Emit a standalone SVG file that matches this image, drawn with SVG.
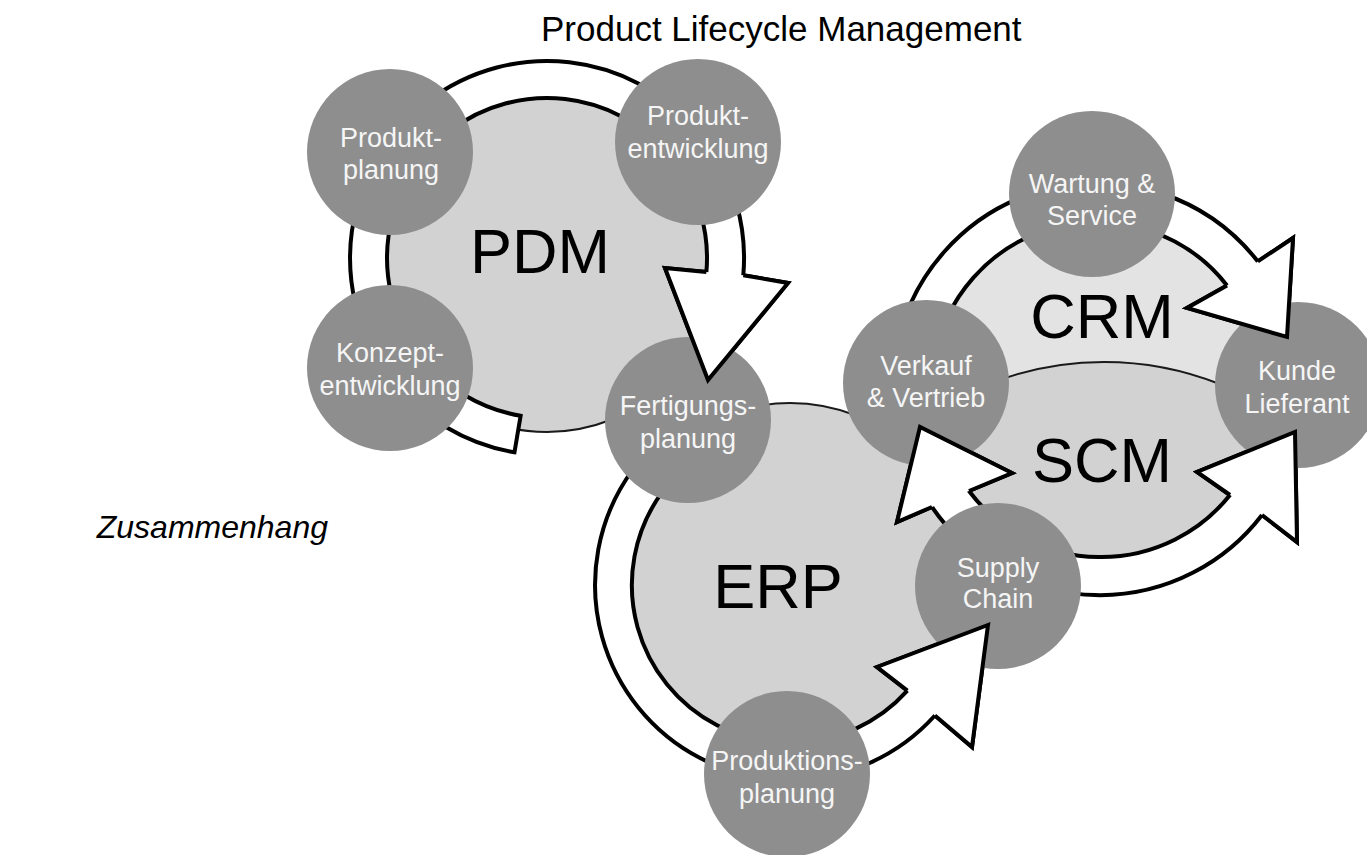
<svg xmlns="http://www.w3.org/2000/svg" width="1367" height="855" viewBox="0 0 1367 855">
  <style>
    .area { fill: #d2d2d2; stroke: #1a1a1a; stroke-width: 2; }
    .band { fill: #ffffff; stroke: #000000; stroke-width: 4; stroke-linejoin: miter; }
    .head { fill: #ffffff; stroke: #000000; stroke-width: 4; stroke-linejoin: miter; }
    .node circle { fill: #8e8e8e; }
    .node text { font-family: "Liberation Sans", Arial, sans-serif; font-size: 27px; fill: #f5f5f5; text-anchor: middle; }
    .big { font-family: "Liberation Sans", Arial, sans-serif; font-size: 63px; fill: #000000; text-anchor: middle; }
    .title { font-family: "Liberation Sans", Arial, sans-serif; font-size: 35px; fill: #000000; }
    .side { font-family: "Liberation Sans", Arial, sans-serif; font-size: 32px; font-style: italic; fill: #000000; text-anchor: end; }
  </style>
  <defs>
    <clipPath id="ringClip">
      <circle cx="1097" cy="387" r="185"/>
    </clipPath>
  </defs>

  <rect width="1367" height="855" fill="#ffffff"/>

  <text class="title" x="541" y="41">Product Lifecycle Management</text>
  <text class="side" x="328" y="538">Zusammenhang</text>

  <!-- system areas -->
  <g id="areas">
    <circle id="area-pdm" class="area" cx="547" cy="258" r="174"/>
    <circle id="area-erp" class="area" cx="790" cy="585" r="182"/>
    <g id="area-crm-scm">
      <circle cx="1097" cy="387" r="185" fill="#e3e3e3"/>
      <circle cx="1104" cy="676" r="314" fill="#d2d2d2" stroke="#1a1a1a" stroke-width="2" clip-path="url(#ringClip)"/>
    </g>
    <text class="big" x="540" y="273">PDM</text>
    <text class="big" x="778" y="608">ERP</text>
    <text class="big" x="1102" y="338">CRM</text>
    <text class="big" x="1102" y="482">SCM</text>
  </g>

  <!-- cycle arrows -->
  <g id="connectors">
    <path id="band-pdm" class="band" d="M 514.5 452.3 A 197 197 0 1 1 743.3 275.2 L 788 283 L 708 380 L 665 268 L 706.4 271.9 A 160 160 0 1 0 520.6 415.8 Z"/>
    <path id="band-erp" class="band" d="M 692.5 416.1 A 195 195 0 1 0 934.9 715.5 L 972 747 L 988 625 L 877 667 L 907.4 690.7 A 158 158 0 1 1 711 448.2 Z"/>
    <path id="band-crm" class="band" d="M 895 358.6 A 204 204 0 0 1 1257.8 261.4 L 1293 238 L 1287 337 L 1187 308 L 1227 285.4 A 165 165 0 0 0 933.6 364 Z"/>
    <path id="band-scm" class="band" d="M 932 507 A 204 204 0 0 0 1262 515 L 1297 542 L 1295 432 L 1197 472 L 1230 495 A 165 165 0 0 1 969 491 L 1012 473 L 920 427 L 897 522 Z"/>
  </g>

  <!-- process steps -->
  <g id="node-produktplanung" class="node">
    <circle cx="390" cy="152" r="83"/>
    <text x="391" y="147">Produkt-</text>
    <text x="391" y="179">planung</text>
  </g>
  <g id="node-produktentwicklung" class="node">
    <circle cx="698" cy="142" r="83"/>
    <text x="698" y="125">Produkt-</text>
    <text x="698" y="158">entwicklung</text>
  </g>
  <g id="node-konzeptentwicklung" class="node">
    <circle cx="390" cy="368" r="83"/>
    <text x="390" y="362">Konzept-</text>
    <text x="390" y="395">entwicklung</text>
  </g>
  <g id="node-fertigungsplanung" class="node">
    <circle cx="688" cy="420" r="83"/>
    <text x="688" y="415">Fertigungs-</text>
    <text x="688" y="448">planung</text>
  </g>
  <g id="node-wartung" class="node">
    <circle cx="1092" cy="194" r="83"/>
    <text x="1092" y="193">Wartung &amp;</text>
    <text x="1092" y="225">Service</text>
  </g>
  <g id="node-verkauf" class="node">
    <circle cx="926" cy="383" r="83"/>
    <text x="926" y="375">Verkauf</text>
    <text x="926" y="407">&amp; Vertrieb</text>
  </g>
  <g id="node-kunde" class="node">
    <circle cx="1298" cy="385" r="83"/>
    <text x="1297" y="380">Kunde</text>
    <text x="1297" y="413">Lieferant</text>
  </g>
  <g id="node-supply" class="node">
    <circle cx="998" cy="586" r="83"/>
    <text x="998" y="577">Supply</text>
    <text x="998" y="608">Chain</text>
  </g>
  <g id="node-produktionsplanung" class="node">
    <circle cx="787" cy="774" r="83"/>
    <text x="787" y="770">Produktions-</text>
    <text x="787" y="803">planung</text>
  </g>

  <!-- arrow tips lie over the target steps -->
  <g id="arrow-tips">
    <path class="head" d="M 706.4 271.9 L 665 268 L 708 380 L 788 283 L 743.3 275.2"/>
    <path class="head" d="M 907.4 690.7 L 877 667 L 988 625 L 972 747 L 934.9 715.5"/>
    <path class="head" d="M 1227 285.4 L 1187 308 L 1287 337 L 1293 238 L 1257.8 261.4"/>
    <path class="head" d="M 1230 495 L 1197 472 L 1295 432 L 1297 542 L 1262 515"/>
    <path class="head" d="M 969 491 L 1012 473 L 920 427 L 897 522 L 932 507"/>
  </g>
</svg>
